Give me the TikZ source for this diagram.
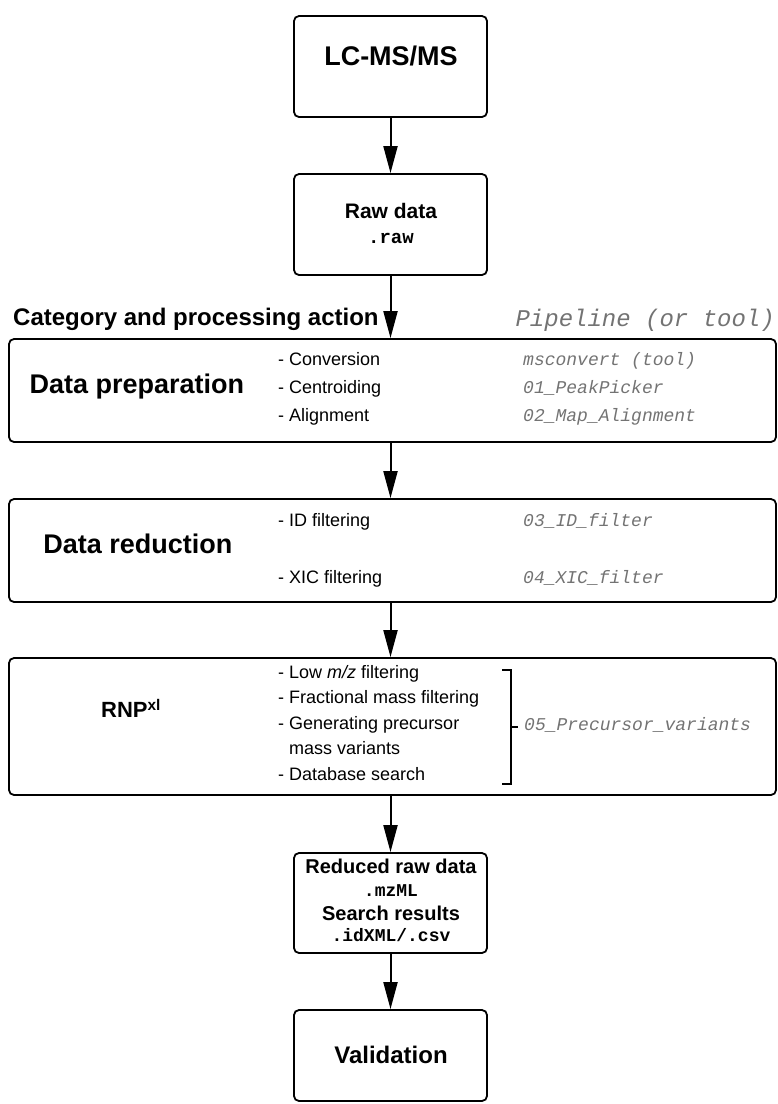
\documentclass[tikz,border=0pt]{standalone}
\usepackage{fontspec}
\setmainfont{Liberation Sans}
\newfontfamily\monof{Liberation Mono}
\usetikzlibrary{arrows.meta}
\newcommand\myfs[1]{\fontsize{#1}{#1}\selectfont}
\definecolor{tgray}{RGB}{115,115,115}
\begin{document}
\begin{tikzpicture}[x=1pt,y=-1pt,
  box/.style={draw, line width=1.8pt, rounded corners=5pt, inner sep=0pt},
  arr/.style={line width=2pt, -{Triangle[width=14pt,length=27pt]}},
  t/.style={inner sep=0pt, text height=.72em, text depth=0pt},
  big/.style={t, font=\myfs{27}\bfseries},
  item/.style={t, anchor=west, font=\myfs{18}},
  tool/.style={t, anchor=west, font=\myfs{18}\monof\itshape, text=tgray},
  ext/.style={t, font=\myfs{18}\monof\bfseries}]
\useasboundingbox (0,0) rectangle (778,1104);
% boxes
\node[box, minimum width=193pt, minimum height=101pt] (lc) at (390.5,66.5) {};
\node[box, minimum width=193pt, minimum height=101pt] (raw) at (390.5,224.5) {};
\node[box, minimum width=767pt, minimum height=103pt] (prep) at (392.5,390.5) {};
\node[box, minimum width=767pt, minimum height=103pt] (red) at (392.5,550.5) {};
\node[box, minimum width=767pt, minimum height=137pt] (rnp) at (392.5,726.5) {};
\node[box, minimum width=193pt, minimum height=100pt] (res) at (390.5,903) {};
\node[box, minimum width=193pt, minimum height=91pt] (val) at (390.5,1055.5) {};
% arrows
\draw[arr] (lc.south) -- (raw.north);
\draw[arr] (raw.south) -- (raw.south |- prep.north);
\draw[arr] (raw.south |- prep.south) -- (raw.south |- red.north);
\draw[arr] (raw.south |- red.south) -- (raw.south |- rnp.north);
\draw[arr] (raw.south |- rnp.south) -- (res.north);
\draw[arr] (res.south) -- (val.north);
% top boxes text
\node[big] (lct) at (391,62) {LC-MS/MS};
\node[t, font=\myfs{21}\bfseries] (rawt) at (391,215) {Raw data};
\node[t, font=\myfs{19}\monof\bfseries] (rawe) at (391,240) {.raw};
% headers
\node[t, anchor=west, font=\myfs{24}\bfseries] (cat) at (13,322) {Category and processing action};
\node[t, anchor=east, font=\myfs{24}\monof\itshape, text=tgray] (pip) at (775,323) {Pipeline (or tool)};
% data preparation
\node[big] (prept) at (137,390) {Data preparation};
\node[item] (p1) at (278,362) {- Conversion};
\node[item] (p2) at (278,390) {- Centroiding};
\node[item] (p3) at (278,418) {- Alignment};
\node[tool] (q1) at (523,362) {msconvert (tool)};
\node[tool] (q2) at (523,390) {01\_PeakPicker};
\node[tool] (q3) at (523,418) {02\_Map\_Alignment};
% data reduction
\node[big] (redt) at (138,550) {Data reduction};
\node[item] (r1) at (278,523) {- ID filtering};
\node[item] (r2) at (278,580) {- XIC filtering};
\node[tool] (s1) at (523,523) {03\_ID\_filter};
\node[tool] (s2) at (523,580) {04\_XIC\_filter};
% RNPxl
\node[t, anchor=west, font=\myfs{22}\bfseries] (rnpt) at (101,714) {RNP\textsuperscript{xl}};
\node[item] (n1) at (278,675) {- Low \textit{m/z} filtering};
\node[item] (n2) at (278,700) {- Fractional mass filtering};
\node[item] (n3) at (278,726) {- Generating precursor};
\node[item] (n4) at (289,751) {mass variants};
\node[item] (n5) at (278,777) {- Database search};
\draw[line width=1.6pt] (502,670) -- (511,670) -- (511,784) -- (502,784);
\draw[line width=1.6pt] (511,727) -- (518,727);
\node[tool] (pv) at (524,727) {05\_Precursor\_variants};
% results
\node[t, font=\myfs{20}\bfseries] (res1) at (391,870) {Reduced raw data};
\node[ext] (res2) at (391,893) {.mzML};
\node[t, font=\myfs{20}\bfseries] (res3) at (391,917) {Search results};
\node[ext] (res4) at (391,938) {.idXML/.csv};
% validation
\node[t, font=\myfs{24}\bfseries] (valt) at (391,1060) {Validation};
\end{tikzpicture}
\end{document}
